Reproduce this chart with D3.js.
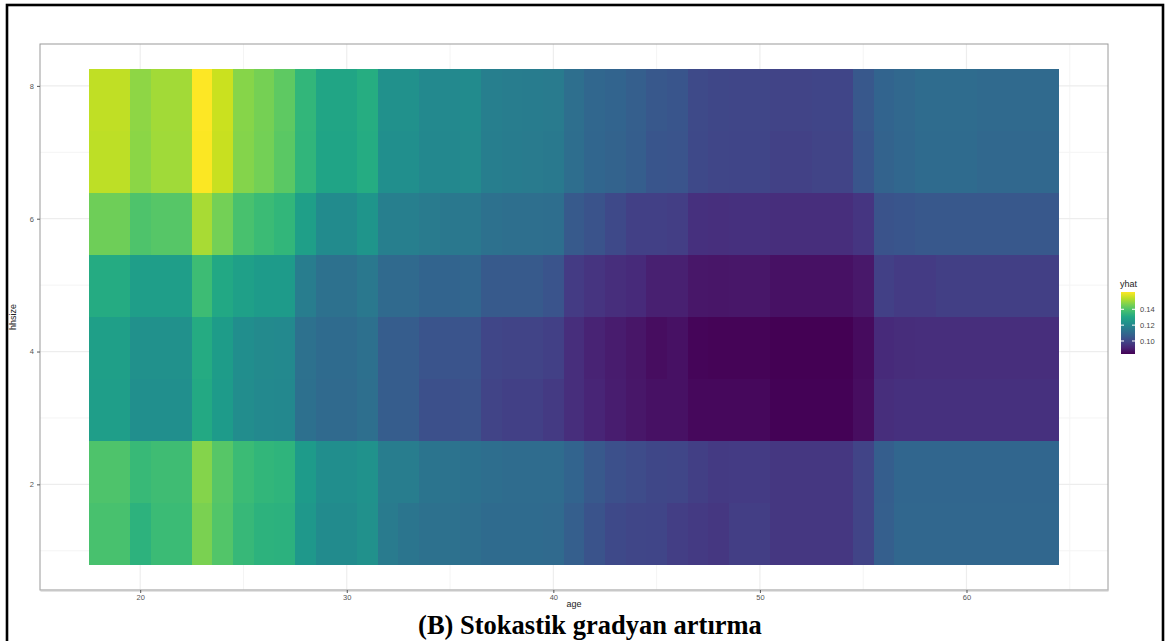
<!DOCTYPE html>
<html>
<head>
<meta charset="utf-8">
<script src="https://cdn.jsdelivr.net/npm/d3@7"></script>
<style>
  body { margin: 0; background: #fff; }
  svg { display: block; font-family: "Liberation Sans", Arial, sans-serif; }
</style>
</head>
<body>
<svg width="1169" height="641"></svg>
<script>
// age categories (tile centres)
var ages = [18,19,20,21,22,23,24,25,26,27,28,29,30,31,32,33,34,35,36,37,38,39,40,
            41,42,43,44,45,46,47,48,49,50,51,52,53,54,55,56,57,58,59,60,61,62,63,64];

// hhsize grid values, top row first
var hhsize = [7.79, 6.86, 5.92, 4.99, 4.05, 3.12, 2.19, 1.25];
var tileH = 0.934;

// predicted yhat, one array per hhsize row (ages 18..64)
var row779 = [0.1544,0.1544,0.1485,0.1509,0.1509,0.1618,0.1555,0.1477,0.1454,0.1423,0.1352,0.1297,0.1297,0.1321,
  0.1227,0.1227,0.1204,0.1204,0.1211,0.1172,0.1164,0.1161,0.1157,0.1118,0.1094,0.1086,0.1071,0.1047,0.1043,0.1012,
  0.1004,0.1000,0.1000,0.0992,0.0992,0.0996,0.0996,0.1047,0.1086,0.1098,0.1110,0.1110,0.1110,0.1102,0.1102,0.1102,0.1102];
var row686 = [0.1540,0.1540,0.1481,0.1505,0.1505,0.1614,0.1551,0.1473,0.1450,0.1419,0.1348,0.1293,0.1293,0.1317,
  0.1223,0.1223,0.1200,0.1200,0.1207,0.1168,0.1160,0.1157,0.1153,0.1114,0.1090,0.1082,0.1067,0.1043,0.1039,0.1008,
  0.1000,0.0996,0.0996,0.0988,0.0988,0.0992,0.0992,0.1043,0.1082,0.1094,0.1106,0.1106,0.1106,0.1098,0.1098,0.1098,0.1098];
var row592 = [0.1446,0.1446,0.1399,0.1411,0.1411,0.1516,0.1450,0.1391,0.1368,0.1352,0.1274,0.1211,0.1211,0.1243,
  0.1172,0.1172,0.1157,0.1149,0.1149,0.1125,0.1118,0.1118,0.1114,0.1055,0.1035,0.1008,0.0985,0.0985,0.0977,0.0945,
  0.0942,0.0945,0.0945,0.0938,0.0938,0.0938,0.0938,0.0957,0.1035,0.1043,0.1047,0.1047,0.1047,0.1047,0.1047,0.1047,0.1047];
var row499 = [0.1313,0.1313,0.1270,0.1270,0.1270,0.1372,0.1305,0.1278,0.1262,0.1262,0.1164,0.1125,0.1125,0.1149,
  0.1102,0.1102,0.1086,0.1086,0.1090,0.1055,0.1055,0.1055,0.1039,0.0973,0.0953,0.0938,0.0930,0.0906,0.0906,0.0883,
  0.0879,0.0883,0.0883,0.0871,0.0871,0.0871,0.0871,0.0887,0.0985,0.0973,0.0973,0.0981,0.0981,0.0981,0.0981,0.0981,0.0981];
var row405 = [0.1274,0.1274,0.1227,0.1227,0.1227,0.1313,0.1266,0.1219,0.1207,0.1204,0.1125,0.1106,0.1106,0.1121,
  0.1063,0.1063,0.1039,0.1039,0.1039,0.1000,0.0992,0.0992,0.0985,0.0938,0.0910,0.0895,0.0879,0.0863,0.0871,0.0848,
  0.0844,0.0844,0.0844,0.0836,0.0836,0.0836,0.0838,0.0859,0.0930,0.0934,0.0938,0.0938,0.0938,0.0938,0.0938,0.0938,0.0938];
var row312 = [0.1270,0.1270,0.1223,0.1223,0.1223,0.1309,0.1262,0.1215,0.1204,0.1200,0.1121,0.1102,0.1102,0.1118,
  0.1063,0.1063,0.1028,0.1028,0.1032,0.0992,0.0985,0.0985,0.0969,0.0938,0.0918,0.0899,0.0883,0.0871,0.0871,0.0852,
  0.0852,0.0852,0.0852,0.0840,0.0840,0.0840,0.0840,0.0863,0.0938,0.0945,0.0945,0.0945,0.0945,0.0945,0.0945,0.0945,0.0945];
var row219 = [0.1399,0.1399,0.1364,0.1376,0.1376,0.1473,0.1411,0.1368,0.1352,0.1344,0.1262,0.1219,0.1219,0.1231,
  0.1164,0.1164,0.1137,0.1133,0.1129,0.1114,0.1110,0.1110,0.1110,0.1086,0.1051,0.1028,0.1016,0.1004,0.1000,0.0981,
  0.0969,0.0973,0.0973,0.0961,0.0961,0.0961,0.0961,0.0992,0.1067,0.1090,0.1090,0.1090,0.1090,0.1090,0.1090,0.1090,0.1090];
var row125 = [0.1391,0.1391,0.1340,0.1368,0.1368,0.1462,0.1407,0.1360,0.1340,0.1336,0.1254,0.1211,0.1211,0.1227,
  0.1157,0.1141,0.1125,0.1125,0.1118,0.1106,0.1106,0.1106,0.1102,0.1071,0.1035,0.1008,0.1000,0.0996,0.0977,0.0969,
  0.0961,0.0977,0.0977,0.0961,0.0961,0.0961,0.0961,0.0992,0.1071,0.1094,0.1094,0.1094,0.1094,0.1094,0.1094,0.1094,0.1094];

var rows = [row779, row686, row592, row499, row405, row312, row219, row125];

var xTicks = [20, 30, 40, 50, 60];
var yTicks = [2, 4, 6, 8];
var legendTicks = [0.10, 0.12, 0.14];

// flatten into tiles
var tiles = [];
rows.forEach(function(r, i) {
  r.forEach(function(v, j) {
    tiles.push({ age: ages[j], hh: hhsize[i], yhat: v });
  });
});

var svg = d3.select("svg");

var panel = { left: 40, right: 1108, top: 44, bottom: 590 };

var xMin = d3.min(ages) - 0.5, xMax = d3.max(ages) + 0.5;
var xPad = (xMax - xMin) * 0.05;
var xScale = d3.scaleLinear()
  .domain([xMin - xPad, xMax + xPad])
  .range([panel.left, panel.right]);

var yMin = d3.min(hhsize) - tileH / 2, yMax = d3.max(hhsize) + tileH / 2;
var yPad = (yMax - yMin) * 0.05;
var yScale = d3.scaleLinear()
  .domain([yMin - yPad, yMax + yPad])
  .range([panel.bottom, panel.top]);

var color = d3.scaleSequential(d3.interpolateViridis)
  .domain(d3.extent(tiles, function(d) { return d.yhat; }));

// outer black frame
svg.append("rect")
  .attr("x", 7).attr("y", 5)
  .attr("width", 1156).attr("height", 660)
  .attr("fill", "none")
  .attr("stroke", "#000")
  .attr("stroke-width", 2.6);

// grid
var grid = svg.append("g");
var xMinor = [25, 35, 45, 55, 65];
var yMinor = [1, 3, 5, 7];
grid.selectAll(".xminor").data(xMinor).enter().append("line")
  .attr("x1", function(d) { return xScale(d); }).attr("x2", function(d) { return xScale(d); })
  .attr("y1", panel.top).attr("y2", panel.bottom)
  .attr("stroke", "#f4f4f4").attr("stroke-width", 1);
grid.selectAll(".yminor").data(yMinor).enter().append("line")
  .attr("y1", function(d) { return yScale(d); }).attr("y2", function(d) { return yScale(d); })
  .attr("x1", panel.left).attr("x2", panel.right)
  .attr("stroke", "#f4f4f4").attr("stroke-width", 1);
grid.selectAll(".xmajor").data(xTicks).enter().append("line")
  .attr("x1", function(d) { return xScale(d); }).attr("x2", function(d) { return xScale(d); })
  .attr("y1", panel.top).attr("y2", panel.bottom)
  .attr("stroke", "#ededed").attr("stroke-width", 1.2);
grid.selectAll(".ymajor").data(yTicks).enter().append("line")
  .attr("y1", function(d) { return yScale(d); }).attr("y2", function(d) { return yScale(d); })
  .attr("x1", panel.left).attr("x2", panel.right)
  .attr("stroke", "#ededed").attr("stroke-width", 1.2);

// tiles, snapped to whole pixels so neighbours meet without seams
var px = function(v) { return Math.round(v); };
svg.append("g")
  .attr("shape-rendering", "crispEdges")
  .selectAll("rect")
  .data(tiles)
  .enter()
  .append("rect")
  .attr("x", function(d) { return px(xScale(d.age - 0.5)); })
  .attr("y", function(d) { return px(yScale(d.hh + tileH / 2)); })
  .attr("width", function(d) { return px(xScale(d.age + 0.5)) - px(xScale(d.age - 0.5)); })
  .attr("height", function(d) { return px(yScale(d.hh - tileH / 2)) - px(yScale(d.hh + tileH / 2)); })
  .attr("fill", function(d) { return color(d.yhat); });

// panel border
svg.append("rect")
  .attr("x", panel.left).attr("y", panel.top)
  .attr("width", panel.right - panel.left).attr("height", panel.bottom - panel.top)
  .attr("fill", "none").attr("stroke", "#9a9a9a").attr("stroke-width", 1);

// axes
var xAxis = svg.append("g")
  .attr("transform", "translate(0," + panel.bottom + ")")
  .call(d3.axisBottom(xScale).tickValues(xTicks).tickSize(3).tickSizeOuter(0).tickPadding(2));
var yAxis = svg.append("g")
  .attr("transform", "translate(" + panel.left + ",0)")
  .call(d3.axisLeft(yScale).tickValues(yTicks).tickSize(3).tickSizeOuter(0).tickPadding(3));
[xAxis, yAxis].forEach(function(a) {
  a.selectAll(".tick line").attr("stroke", "#555");
  a.selectAll(".tick text").attr("fill", "#555").attr("font-size", 7.5)
    .style("font-family", "'Liberation Sans', Arial, sans-serif");
});
xAxis.select(".domain").attr("stroke", "#c8c8c8").attr("stroke-width", 2);
yAxis.select(".domain").remove();

svg.append("text")
  .attr("x", (panel.left + panel.right) / 2).attr("y", 607)
  .attr("text-anchor", "middle").attr("font-size", 9).attr("fill", "#222")
  .text("age");
svg.append("text")
  .attr("transform", "translate(16," + ((panel.top + panel.bottom) / 2) + ") rotate(-90)")
  .attr("text-anchor", "middle").attr("font-size", 9).attr("fill", "#222")
  .text("hhsize");

// legend
var leg = { x: 1121, w: 14, top: 292, bottom: 354 };
var legScale = d3.scaleLinear().domain(color.domain()).range([leg.bottom, leg.top]);
var defs = svg.append("defs");
var grad = defs.append("linearGradient").attr("id", "vir")
  .attr("x1", 0).attr("y1", 1).attr("x2", 0).attr("y2", 0);
d3.range(0, 1.0001, 0.1).forEach(function(t) {
  grad.append("stop").attr("offset", t).attr("stop-color", d3.interpolateViridis(t));
});
svg.append("rect")
  .attr("x", leg.x).attr("y", leg.top)
  .attr("width", leg.w).attr("height", leg.bottom - leg.top)
  .attr("fill", "url(#vir)");
var lt = svg.append("g").selectAll("g").data(legendTicks).enter().append("g");
lt.append("line")
  .attr("x1", leg.x).attr("x2", leg.x + 3)
  .attr("y1", function(d) { return legScale(d); }).attr("y2", function(d) { return legScale(d); })
  .attr("stroke", "#fff");
lt.append("line")
  .attr("x1", leg.x + leg.w - 3).attr("x2", leg.x + leg.w)
  .attr("y1", function(d) { return legScale(d); }).attr("y2", function(d) { return legScale(d); })
  .attr("stroke", "#fff");
lt.append("text")
  .attr("x", leg.x + leg.w + 5)
  .attr("y", function(d) { return legScale(d); })
  .attr("dy", "0.35em")
  .attr("font-size", 7.5).attr("fill", "#444")
  .text(function(d) { return d.toFixed(2); });
svg.append("text")
  .attr("x", leg.x - 1).attr("y", 287)
  .attr("font-size", 9).attr("fill", "#222")
  .text("yhat");

// caption
svg.append("text")
  .attr("x", 590).attr("y", 634)
  .attr("text-anchor", "middle")
  .style("font-family", "'Liberation Serif', 'Times New Roman', serif")
  .attr("font-weight", "bold")
  .attr("font-size", 26.5)
  .attr("fill", "#000")
  .text("(B) Stokastik gradyan artırma");
</script>
</body>
</html>
